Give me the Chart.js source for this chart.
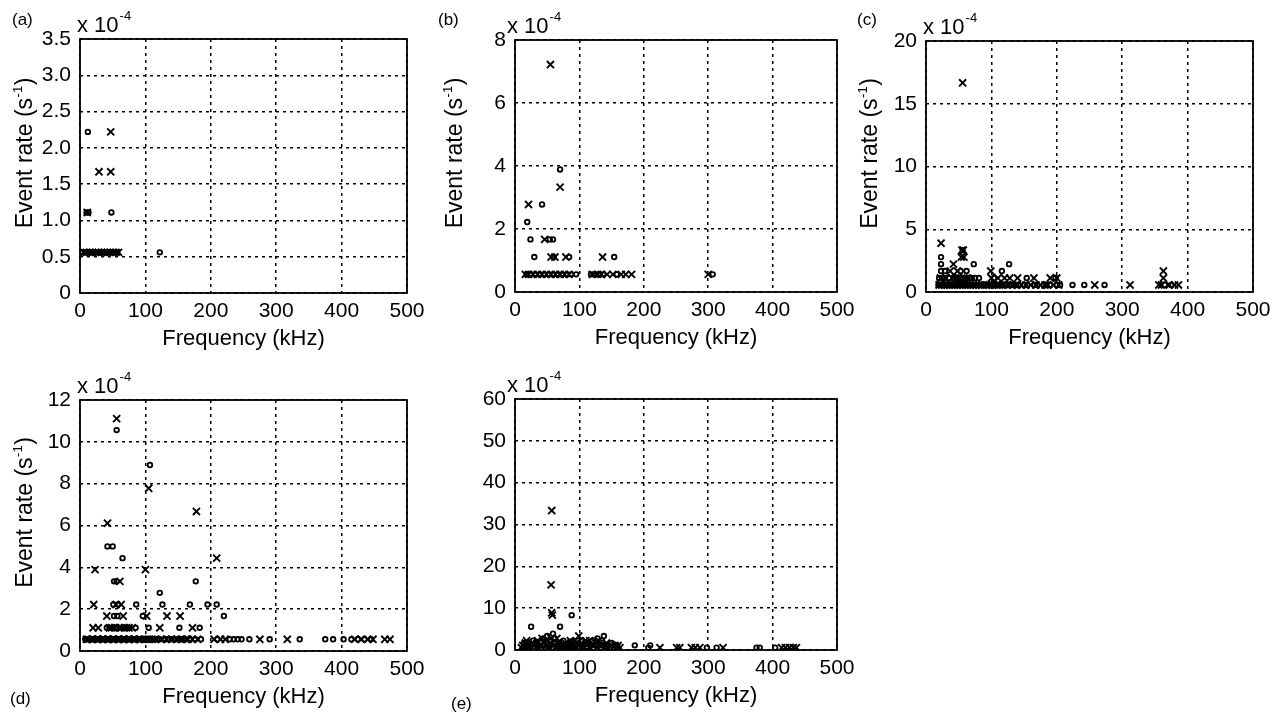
<!DOCTYPE html>
<html>
<head>
<meta charset="utf-8">
<script src="https://cdn.jsdelivr.net/npm/chart.js"></script>
<style>
  body { margin: 0; background: #fff; width: 1279px; height: 713px; overflow: hidden; position: relative; }
  canvas { position: absolute; }
</style>
</head>
<body>
<canvas id="pa"></canvas>
<canvas id="pb"></canvas>
<canvas id="pc"></canvas>
<canvas id="pd"></canvas>
<canvas id="pe"></canvas>
<script>
// event rates in units of 1e-4 s^-1, frequency in kHz
const xTicks = [0, 100, 200, 300, 400, 500];
const yTicksA = [0, 0.5, 1, 1.5, 2, 2.5, 3, 3.5];
const yLabelsA = ['0', '0.5', '1.0', '1.5', '2.0', '2.5', '3.0', '3.5'];
const yTicksB = [0, 2, 4, 6, 8];
const yTicksC = [0, 5, 10, 15, 20];
const yTicksD = [0, 2, 4, 6, 8, 10, 12];
const yTicksE = [0, 10, 20, 30, 40, 50, 60];

const aCirc = [[12,2.22],[48,1.11],[10,1.11],[13,1.11],[122,0.56],
  [4,0.56],[8,0.56],[12,0.56],[17,0.56],[22,0.56],[26,0.56],[31,0.56],[36,0.56],[40,0.56],[44,0.56],[49,0.56],[53,0.56],[57,0.56]];
const aCross = [[29,1.67],[47,1.67],[47,2.22],[11,1.11],
  [6,0.56],[10,0.56],[15,0.56],[19,0.56],[24,0.56],[28,0.56],[33,0.56],[38,0.56],[42,0.56],[46,0.56],[51,0.56],[55,0.56],[59,0.56]];

const bCirc = [[70,3.89],[42,2.78],[19,2.22],[24,1.67],[54,1.67],[59,1.67],[30,1.11],[60,1.11],[84,1.11],[154,1.11],[307,0.56],
  [18,0.56],[24,0.56],[31,0.56],[38,0.56],[45,0.56],[52,0.56],[59,0.56],[66,0.56],[73,0.56],[80,0.56],[87,0.56],[95,0.56],
  [118,0.56],[122,0.56],[126,0.56],[131,0.56],[137,0.56],[158,0.56]];
const bCross = [[55,7.22],[70,3.33],[21,2.78],[46,1.67],[56,1.11],[62,1.11],[79,1.11],[136,1.11],[300,0.56],
  [16,0.56],[21,0.56],[28,0.56],[35,0.56],[42,0.56],[49,0.56],[56,0.56],[63,0.56],[70,0.56],[77,0.56],[84,0.56],
  [120,0.56],[128,0.56],[134,0.56],[143,0.56],[152,0.56],[165,0.56],[172,0.56],[181,0.56]];

const cCirc = [[56,3.33],[23,2.78],[23,2.22],[73,2.22],[127,2.22],[116,1.67],[23,1.67],[29,1.67],[53,1.67],[62,1.67],
  [81,1.11],[154,1.11],[25,1.11],[35,1.11],[47,1.11],[66,1.11],[104,1.11],[198,1.11],
  [20,1.11],[29,1.11],[42,1.11],[52,1.11],[56,1.11],[61,1.11],[70,1.11],[75,1.11],
  [19,0.56],[24,0.56],[32,0.56],[40,0.56],[48,0.56],[56,0.56],[64,0.56],[72,0.56],[80,0.56],[90,0.56],[102,0.56],[112,0.56],
  [124,0.56],[138,0.56],[150,0.56],[166,0.56],[180,0.56],[200,0.56],[205,0.56],[224,0.56],[242,0.56],[273,0.56],[365,0.56],[375,0.56],
  [21,0.56],[27,0.56],[35,0.56],[43,0.56],[51,0.56],[59,0.56],[67,0.56],[75,0.56],[84,0.56],[94,0.56],[106,0.56],[116,0.56],
  [128,0.56],[134,0.56],[142,0.56],[155,0.56],[170,0.56],[184,0.56],[190,0.56]];
const cCross = [[56,16.67],[23,3.89],[55,3.33],[57,3.33],[58,2.78],[54,2.78],[42,2.22],[37,1.67],[48,1.67],[99,1.67],
  [128,1.11],[200,1.11],[363,1.67],[363,1.11],[100,1.11],[58,1.11],[40,1.11],[30,1.11],
  [22,1.11],[45,1.11],[50,1.11],[63,1.11],[110,1.11],[120,1.11],[140,1.11],[165,1.11],[190,1.11],
  [20,0.56],[28,0.56],[36,0.56],[44,0.56],[52,0.56],[60,0.56],[68,0.56],[76,0.56],[86,0.56],[97,0.56],[108,0.56],[118,0.56],
  [132,0.56],[146,0.56],[160,0.56],[175,0.56],[186,0.56],[195,0.56],[203,0.56],[258,0.56],[312,0.56],
  [356,0.56],[360,0.56],[372,0.56],[380,0.56],[386,0.56],
  [24,0.56],[32,0.56],[40,0.56],[48,0.56],[56,0.56],[64,0.56],[72,0.56],[81,0.56],[92,0.56],[102,0.56],[113,0.56],
  [125,0.56],[139,0.56],[153,0.56],[168,0.56],[182,0.56]];

const dCirc = [[56,10.56],[107,8.89],[42,5.0],[50,5.0],[65,4.44],[52,3.33],[56,3.33],[177,3.33],[122,2.78],
  [51,2.22],[58,2.22],[86,2.22],[126,2.22],[168,2.22],[195,2.22],[209,2.22],
  [52,1.67],[57,1.67],[96,1.67],[220,1.67],
  [41,1.11],[50,1.11],[55,1.11],[65,1.11],[70,1.11],[105,1.11],[152,1.11],[183,1.11],[45,1.11],[58,1.11],[75,1.11],[85,1.11],
  [8,0.56],[14,0.56],[22,0.56],[30,0.56],[38,0.56],[46,0.56],[54,0.56],[62,0.56],[70,0.56],[78,0.56],[86,0.56],[94,0.56],
  [102,0.56],[106,0.56],[114,0.56],[118,0.56],[130,0.56],[135,0.56],[145,0.56],[150,0.56],[160,0.56],[168,0.56],[176,0.56],
  [185,0.56],[210,0.56],[229,0.56],[235,0.56],[241,0.56],[247,0.56],[259,0.56],[290,0.56],[336,0.56],
  [375,0.56],[387,0.56],[403,0.56],[415,0.56],[425,0.56],[435,0.56],[445,0.56],
  [10,0.56],[18,0.56],[26,0.56],[34,0.56],[42,0.56],[50,0.56],[58,0.56],[66,0.56],[74,0.56],[82,0.56],[90,0.56],[98,0.56],
  [110,0.56],[122,0.56],[140,0.56],[155,0.56]];
const dCross = [[56,11.11],[105,7.78],[178,6.67],[42,6.11],[209,4.44],[23,3.89],[100,3.89],[61,3.33],
  [21,2.22],[55,2.22],[63,2.22],[41,1.67],[66,1.67],[102,1.67],[133,1.67],[153,1.67],
  [20,1.11],[28,1.11],[45,1.11],[60,1.11],[75,1.11],[122,1.11],[172,1.11],[48,1.11],[53,1.11],[63,1.11],[68,1.11],[80,1.11],
  [10,0.56],[18,0.56],[26,0.56],[34,0.56],[42,0.56],[50,0.56],[58,0.56],[66,0.56],[74,0.56],[82,0.56],[90,0.56],[98,0.56],
  [110,0.56],[125,0.56],[140,0.56],[155,0.56],[165,0.56],[172,0.56],[180,0.56],[205,0.56],[215,0.56],[222,0.56],
  [275,0.56],[317,0.56],[420,0.56],[430,0.56],[440,0.56],[448,0.56],[466,0.56],[474,0.56],
  [12,0.56],[20,0.56],[28,0.56],[36,0.56],[44,0.56],[52,0.56],[60,0.56],[68,0.56],[76,0.56],[84,0.56],[92,0.56],
  [104,0.56],[115,0.56],[132,0.56],[148,0.56],[162,0.56]];

const eCirc = [[88,8.33],[25,5.56],[70,5.56],[59,3.89],[44,2.78],[50,3.33],[138,3.33],[18,0.56],[28,2.22],[38,1.11],
  [48,0.56],[55,2.22],[63,1.67],[68,0.56],[75,2.22],[83,1.11],[90,2.22],[100,0.56],[108,1.67],[118,1.11],[128,2.78],
  [140,0.56],[150,1.67],[186,1.11],[210,1.11],[207,0.56],[298,0.56],[313,0.56],[375,0.56],[380,0.56],[404,0.56],
  [22,1.11],[40,0.56],[112,0.56],[132,1.11],
  [14,1.67],[24,0.56],[32,1.67],[36,0.56],[44,1.11],[52,1.11],[58,0.56],[66,1.11],[72,1.11],[78,0.56],[86,1.67],
  [94,1.11],[98,2.22],[104,2.22],[114,1.67],[122,0.56],[126,1.11],[136,1.67],[144,1.11],[154,0.56],[158,1.11],
  [16,1.11],[28,0.56],[52,0.56],[62,2.78],[82,0.56],[92,0.56],[120,2.22],[135,2.22]];
const eCross = [[57,33.33],[56,15.56],[57,8.89],[58,8.33],[99,3.33],[12,1.11],[20,1.67],[30,1.11],[45,1.67],[60,1.11],
  [70,0.56],[80,1.11],[95,1.67],[105,1.11],[115,0.56],[125,1.67],[135,1.11],[145,0.56],[155,1.11],[163,0.56],
  [225,0.56],[251,0.56],[256,0.56],[274,0.56],[280,0.56],[287,0.56],[323,0.56],
  [414,0.56],[420,0.56],[426,0.56],[432,0.56],[437,0.56],
  [15,0.56],[25,0.56],[35,2.22],[50,2.22],[65,2.78],[85,0.56],[110,2.22],[130,2.22],
  [10,0.56],[16,1.67],[22,0.56],[26,1.67],[33,0.56],[40,1.11],[48,1.11],[54,1.67],[62,0.56],[66,1.67],[74,1.11],
  [78,1.67],[90,1.11],[92,0.56],[100,1.11],[102,0.56],[108,0.56],[112,1.11],[120,1.11],[128,0.56],[138,0.56],
  [142,1.67],[150,1.11],[158,0.56],[160,1.11],[18,2.22],[42,2.78],[56,2.78],[86,2.22],[116,2.22]];

const FONT = "'Liberation Sans', Arial, Helvetica, sans-serif";

// box = [left, right, top, bottom] of the plot area on the page
const panels = [
  { id: 'pa', circ: aCirc, cross: aCross, yMax: 3.5, yTicks: yTicksA, yLabels: yLabelsA, box: [80, 407, 39, 293],
    label: '(a)', labelAt: [12, 25], yTitle: 48, expDx: -3 },
  { id: 'pb', circ: bCirc, cross: bCross, yMax: 8, yTicks: yTicksB, box: [515, 837, 40, 292],
    label: '(b)', labelAt: [438, 25], yTitle: 53, expDx: -8 },
  { id: 'pc', circ: cCirc, cross: cCross, yMax: 20, yTicks: yTicksC, box: [926, 1253, 41, 292],
    label: '(c)', labelAt: [857, 25], yTitle: 49, expDx: -3 },
  { id: 'pd', circ: dCirc, cross: dCross, yMax: 12, yTicks: yTicksD, box: [80, 407, 400, 651],
    label: '(d)', labelAt: [10, 704], yTitle: 48, expDx: -3 },
  { id: 'pe', circ: eCirc, cross: eCross, yMax: 60, yTicks: yTicksE, box: [515, 837, 399, 650],
    label: '(e)', labelAt: [451, 709], yTitle: null, expDx: -8 }
];

const PAD_L = 80, PAD_T = 39, PAD_R = 30, PAD_B = 70;

const decor = {
  id: 'decor',
  afterDraw(chart, args, o) {
    const p = o.panel;
    const ctx = chart.ctx;
    const a = chart.chartArea;
    const ox = p.box[0] - PAD_L, oy = p.box[2] - PAD_T;
    ctx.save();
    ctx.strokeStyle = '#000';
    ctx.lineWidth = 1.8;
    ctx.setLineDash([]);
    ctx.strokeRect(a.left, a.top, a.right - a.left, a.bottom - a.top);

    ctx.fillStyle = '#000';
    ctx.textBaseline = 'alphabetic';
    // x title
    ctx.font = '22px ' + FONT;
    ctx.textAlign = 'center';
    ctx.fillText('Frequency (kHz)', (a.left + a.right) / 2, a.bottom + 52);

    // exponent label
    ctx.textAlign = 'left';
    const ex = a.left + p.expDx;
    ctx.fillText('x 10', ex, a.top - 7);
    const w10 = ctx.measureText('x 10').width;
    ctx.font = '13px ' + FONT;
    ctx.fillText('-4', ex + w10 + 1, a.top - 19);

    // panel label
    ctx.font = '17px ' + FONT;
    ctx.fillText(p.label, p.labelAt[0] - ox, p.labelAt[1] - oy);

    // y title with superscript
    if (p.yTitle) {
      ctx.translate(a.left - p.yTitle, (a.top + a.bottom) / 2 - 13);
      ctx.rotate(-Math.PI / 2);
      ctx.font = '23px ' + FONT;
      const t1 = 'Event rate (s', t3 = ')';
      const w1 = ctx.measureText(t1).width, w3 = ctx.measureText(t3).width;
      ctx.font = '13px ' + FONT;
      const w2 = ctx.measureText('-1').width;
      let x0 = -(w1 + w2 + w3 + 1) / 2;
      ctx.font = '23px ' + FONT;
      ctx.fillText(t1, x0, 0);
      ctx.font = '13px ' + FONT;
      ctx.fillText('-1', x0 + w1 + 0.5, -10);
      ctx.font = '23px ' + FONT;
      ctx.fillText(t3, x0 + w1 + w2 + 1, 0);
    }
    ctx.restore();
  }
};

for (const p of panels) {
  const cv = document.getElementById(p.id);
  const w = p.box[1] - p.box[0] + PAD_L + PAD_R;
  const h = p.box[3] - p.box[2] + PAD_T + PAD_B;
  cv.width = w; cv.height = h;
  cv.style.left = (p.box[0] - PAD_L) + 'px';
  cv.style.top = (p.box[2] - PAD_T) + 'px';
  cv.style.width = w + 'px'; cv.style.height = h + 'px';

  const gridOpts = { color: '#000', lineWidth: 1.5, drawTicks: false };
  const borderOpts = { display: false, dash: [3, 4] };
  const tickFont = { family: FONT, size: 21 };

  new Chart(cv, {
    type: 'scatter',
    data: {
      datasets: [
        {
          data: p.circ.map(d => ({ x: d[0], y: d[1] })),
          pointStyle: 'circle', pointRadius: 2.3, pointBorderWidth: 1.8,
          pointBorderColor: '#000', pointBackgroundColor: 'rgba(0,0,0,0)'
        },
        {
          data: p.cross.map(d => ({ x: d[0], y: d[1] })),
          pointStyle: 'crossRot', pointRadius: 5, pointBorderWidth: 1.9,
          pointBorderColor: '#000', pointBackgroundColor: '#000'
        }
      ]
    },
    options: {
      responsive: false,
      animation: false,
      layout: { padding: { left: 0, top: PAD_T, right: PAD_R, bottom: 0 } },
      plugins: { legend: { display: false }, tooltip: { enabled: false }, decor: { panel: p } },
      scales: {
        x: {
          type: 'linear', min: 0, max: 500,
          afterBuildTicks: s => { s.ticks = xTicks.map(v => ({ value: v })); },
          afterFit: s => { s.height = PAD_B; },
          grid: gridOpts, border: borderOpts,
          ticks: { color: '#000', padding: 6, font: tickFont, maxRotation: 0, autoSkip: false }
        },
        y: {
          type: 'linear', min: 0, max: p.yMax,
          afterBuildTicks: s => { s.ticks = p.yTicks.map(v => ({ value: v })); },
          afterFit: s => { s.width = PAD_L; },
          grid: gridOpts, border: borderOpts,
          ticks: {
            color: '#000', padding: 9, font: tickFont, autoSkip: false,
            callback: (v, i) => p.yLabels ? p.yLabels[i] : String(v)
          }
        }
      }
    },
    plugins: [decor]
  });
}
</script>
</body>
</html>
